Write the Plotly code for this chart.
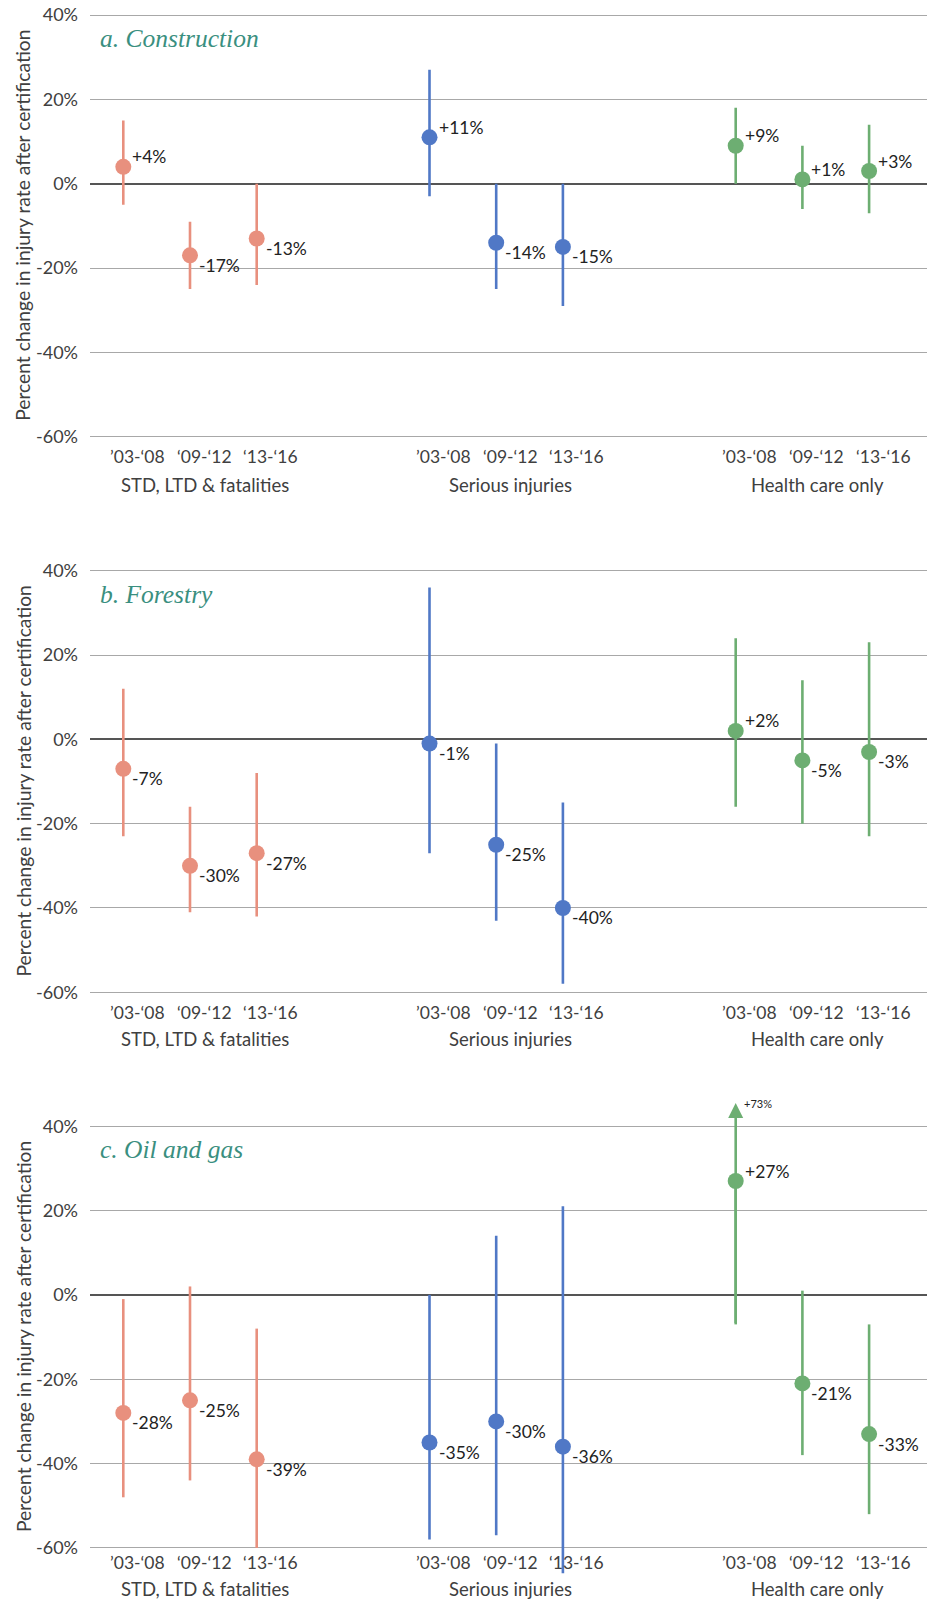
import plotly.graph_objects as go

# ---------------- data ----------------
panels = ["a. Construction", "b. Forestry", "c. Oil and gas"]
groups = ["STD, LTD & fatalities", "Serious injuries", "Health care only"]
periods = ["’03-‘08", "‘09-‘12", "‘13-‘16"]

# estimates (%), order: STD x3, Serious x3, Health x3
construction_est = [4, -17, -13, 11, -14, -15, 9, 1, 3]
construction_lo = [-5, -25, -24, -3, -25, -29, 0, -6, -7]
construction_hi = [15, -9, 0, 27, 0, 0, 18, 9, 14]

forestry_est = [-7, -30, -27, -1, -25, -40, 2, -5, -3]
forestry_lo = [-23, -41, -42, -27, -43, -58, -16, -20, -23]
forestry_hi = [12, -16, -8, 36, -1, -15, 24, 14, 23]

oilgas_est = [-28, -25, -39, -35, -30, -36, 27, -21, -33]
oilgas_lo = [-48, -44, -60, -58, -57, -66, -7, -38, -52]
oilgas_hi = [-1, 2, -8, 0, 14, 21, 73, 1, -7]

y_ticks = [-60, -40, -20, 0, 20, 40]

# ---------------- style / layout ----------------
OFF = 0                      # body margin removed in post_script
W, H = 928, 1601
colors = ["#E8907E", "#5078C6", "#6DAE72"]
title_color = "#3A8F80"
PX0, PX1 = 90, 927           # plot area x (screen pixels)
FONT = "Lato"
TXT = "#404040"


def fx(px):
    return (px - OFF) / W


def fy(py):
    return 1 - (py - OFF) / H


def xpos(g, p):
    return 33.3 + g * 306.2 + p * 66.7


panel_data = [
    (construction_est, construction_lo, construction_hi),
    (forestry_est, forestry_lo, forestry_hi),
    (oilgas_est, oilgas_lo, oilgas_hi),
]
# (screen px of 40%, screen px of -60%, y range, title y, period y, group y)
panel_geo = [
    (15.0, 436.7, [-60.5, 40.5], 38, 456.7, 485),
    (570.7, 992.3, [-60.5, 40.5], 594, 1012.7, 1039),
    (1126.2, 1547.9, [-67, 47], 1149, 1562.5, 1589),
]

fig = go.Figure()
annotations = []

for k, ((est, lo, hi), (y40, y60, yr, ty, tpy, gy)) in enumerate(zip(panel_data, panel_geo)):
    xa = "x" if k == 0 else f"x{k+1}"
    ya = "y" if k == 0 else f"y{k+1}"
    ppu = (y60 - y40) / 100.0
    ptop = y40 - (yr[1] - 40) * ppu
    pbot = y60 + (-60 - yr[0]) * ppu
    ymax = yr[1]
    for g in range(3):
        xs, ys, ep, em = [], [], [], []
        for p in range(3):
            i = g * 3 + p
            xs.append(xpos(g, p))
            ys.append(est[i])
            top = hi[i]
            if top > ymax:
                # off-scale upper bound: arrow instead of bar
                annotations.append(dict(
                    x=xpos(g, p), y=45.5, ax=xpos(g, p), ay=lo[i],
                    xref=xa, yref=ya, axref=xa, ayref=ya,
                    text="", showarrow=True, arrowhead=2, arrowsize=1.15,
                    arrowwidth=2.6, arrowcolor=colors[g], standoff=0))
                annotations.append(dict(
                    x=xpos(g, p), y=45.5, xref=xa, yref=ya, text=f"+{top}%",
                    showarrow=False, xanchor="left", yanchor="middle", xshift=6,
                    font=dict(family=FONT, size=11, color="#222222")))
                top = est[i]
            ep.append(top - est[i])
            em.append(est[i] - lo[i])
            lab = f"+{est[i]}%" if est[i] > 0 else f"{est[i]}%"
            annotations.append(dict(
                x=xpos(g, p), y=est[i], xref=xa, yref=ya, text=lab, showarrow=False,
                xanchor="left", yanchor="middle", xshift=7,
                yshift=10 if est[i] > 0 else -10,
                font=dict(family=FONT, size=17.5, color="#222222")))
        fig.add_trace(go.Scatter(
            x=xs, y=ys, xaxis=xa, yaxis=ya, mode="markers",
            marker=dict(size=16, color=colors[g]),
            error_y=dict(type="data", symmetric=False, array=ep, arrayminus=em,
                         thickness=2.6, width=0, color=colors[g]),
            showlegend=False, hoverinfo="skip"))

    fig.layout[("xaxis" if k == 0 else f"xaxis{k+1}")] = dict(
        domain=[fx(PX0), fx(PX1)], range=[0, PX1 - PX0], anchor=ya, automargin=False,
        showgrid=False, zeroline=False, showticklabels=False, showline=False, fixedrange=True)
    fig.layout[("yaxis" if k == 0 else f"yaxis{k+1}")] = dict(
        domain=[fy(pbot), fy(ptop)], range=yr, anchor=xa, tickvals=y_ticks,
        ticktext=[f"{v}%" for v in y_ticks], showgrid=True, gridcolor="#A8A8A8",
        gridwidth=1.4, zeroline=True, zerolinecolor="#555555", zerolinewidth=2.2,
        showline=False, ticks="", ticklabelstandoff=11, automargin=False,
        tickfont=dict(family=FONT, size=18, color=TXT), fixedrange=True)

    # panel title
    annotations.append(dict(
        x=fx(98), y=fy(ty), xref="paper", yref="paper", text=f"<i>{panels[k]}</i>",
        showarrow=False, xanchor="left", yanchor="middle",
        font=dict(family="Liberation Serif", size=25.5, color=title_color)))
    # y-axis title
    annotations.append(dict(
        x=fx(23), y=fy((y40 + y60) / 2), xref="paper", yref="paper",
        text="Percent change in injury rate after certification", textangle=-90,
        showarrow=False, xanchor="center", yanchor="middle",
        font=dict(family=FONT, size=19.3, color=TXT)))
    # category labels
    for g in range(3):
        for p in range(3):
            annotations.append(dict(
                x=fx(PX0 + xpos(g, p) + 14), y=fy(tpy), xref="paper", yref="paper",
                text=periods[p], showarrow=False, xanchor="center", yanchor="middle",
                font=dict(family=FONT, size=17.5, color=TXT)))
        annotations.append(dict(
            x=fx(PX0 + xpos(g, 1) + 14.7), y=fy(gy), xref="paper", yref="paper",
            text=groups[g], showarrow=False, xanchor="center", yanchor="middle",
            font=dict(family=FONT, size=18.5, color=TXT)))

fig.update_layout(
    width=W, height=H, margin=dict(l=0, r=0, t=0, b=0, autoexpand=False),
    paper_bgcolor="white", plot_bgcolor="white", annotations=annotations,
)

fig.write_html("out.html",
               config={"displayModeBar": False},
               post_script="document.body.style.margin='0px';"
                           "document.body.style.overflow='hidden';")
